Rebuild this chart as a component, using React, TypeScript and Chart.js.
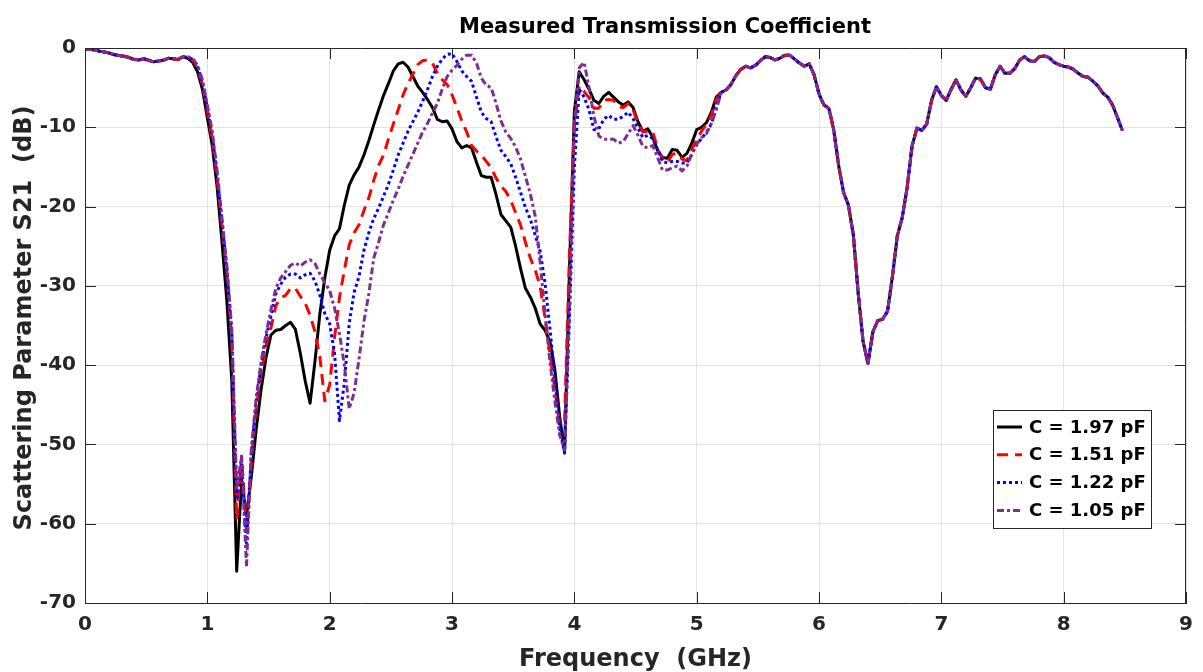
import { useEffect, useRef } from "react";
import { Chart, registerables } from "chart.js";

Chart.register(...registerables);

const FONT = "'DejaVu Sans', 'Liberation Sans', sans-serif";

// Frequency grid (GHz), 0.04 GHz step, 0 .. 8.48
const freqGHz: number[] = Array.from({ length: 213 }, (_, i) => Math.round(i * 4) / 100);

const xTicks = [0, 1, 2, 3, 4, 5, 6, 7, 8, 9];
const yTicks = [-70, -60, -50, -40, -30, -20, -10, 0];

const seriesLabels = ["C = 1.97 pF", "C = 1.51 pF", "C = 1.22 pF", "C = 1.05 pF"];

// 0.00 .. 0.80 GHz (shared by all curves)
const commonLow = [
  -0.1, -0.15, -0.25, -0.4, -0.5, -0.65, -0.85, -0.95, -1.05, -1.2,
  -1.45, -1.5, -1.35, -1.55, -1.75, -1.65, -1.55, -1.3, -1.35, -1.45,
  -1.1,
];

// 0.84 .. 5.16 GHz
const midC197 = [
  -1.3, -1.8, -3.0, -5.2, -8.8, -12.3, -17.5, -24.5, -32, -42,
  -66, -54.5, -59, -54, -48, -43, -39, -36.2, -35.6, -35.5,
  -35, -34.6, -35.5, -38.5, -42, -44.8, -39.5, -33.5, -29, -25.5,
  -23.7, -22.8, -19.8, -17.3, -16, -15, -13.5, -11.7, -9.7, -7.8,
  -6.0, -4.5, -2.9, -2.0, -1.8, -2.4, -3.6, -4.8, -5.6, -6.5,
  -7.5, -9.0, -9.3, -9.2, -10.2, -11.8, -12.6, -12.3, -12.6, -14.4,
  -16.1, -16.3, -16.3, -18.5, -21, -21.8, -22.6, -25, -27.8, -30.3,
  -31.4, -32.8, -34.8, -35.6, -37, -40.5, -46.5, -51, -28, -8,
  -3.0, -4.0, -5.2, -6.6, -7.0, -6.1, -5.6, -6.2, -6.8, -7.2,
  -6.8, -7.5, -9.3, -10.5, -10.2, -11.2, -12.9, -13.8, -13.9, -12.8,
  -12.9, -13.8, -13.3, -12.0, -10.3, -10.0, -9.4, -8.1, -6.2,
];

const midC151 = [
  -1.2, -1.5, -2.6, -4.6, -8.0, -11.5, -16.5, -22.5, -28.5, -37,
  -59.5, -51.5, -61, -52, -45.5, -41, -37.5, -35.3, -32.5, -31.5,
  -31.2, -30.3, -30.3, -31.3, -32.2, -33.7, -35.8, -39, -44.5, -42.5,
  -36.5, -31.5, -28, -24.8, -23.3, -22.3, -20.5, -18.9, -16.7, -14.8,
  -13.5, -11.5, -9.6, -7.8, -5.9, -4.5, -3.3, -2.1, -1.6, -1.5,
  -1.9, -3.2, -4.0, -4.6, -5.9, -7.5, -9.2, -10.6, -12.3, -13.0,
  -13.5, -14.3, -15.1, -16.4, -17.4, -18.1, -19.2, -20.8, -22.3, -24.5,
  -26.5, -28, -30, -34, -38.5, -43, -47.5, -47, -26, -10,
  -4.8, -5.5, -6.3, -7.6, -7.6, -6.6, -6.5, -6.6, -7.4, -7.5,
  -7.0, -7.8, -9.5, -10.6, -10.5, -10.5, -12.7, -14.0, -14.5, -13.4,
  -13.3, -14.0, -14.2, -12.8, -11.5, -10.5, -9.6, -8.5, -6.5,
];

const midC122 = [
  -1.2, -1.4, -2.4, -4.3, -7.6, -11, -16, -22, -28, -36,
  -57, -52, -62.5, -51, -44.5, -40, -36.5, -33.8, -31, -29.8,
  -28.9, -28.5, -28.5, -29, -28.6, -28.4, -29.4, -31.2, -33.5, -34.8,
  -38.5, -47, -42.2, -34.7, -30.8, -28.8, -25.5, -23.3, -21.5, -20.2,
  -18.7, -17.2, -15.4, -13.5, -12.0, -10.5, -9.3, -8.1, -6.7, -5.2,
  -3.6, -2.3, -1.4, -0.8, -0.7, -1.7, -2.9, -3.6, -4.2, -6.2,
  -8.1, -8.9, -9.3, -11.2, -12.9, -13.7, -14.6, -16.3, -18.2, -20.1,
  -21.6, -23.6, -25.6, -29.6, -35.3, -41.5, -48, -51.1, -34, -15,
  -5.2, -6.2, -7.8, -10.3, -10.2, -9.0, -8.5, -9.0, -9.0, -8.6,
  -8.1, -8.9, -10.1, -11.3, -11.0, -11.4, -12.8, -14.3, -14.5, -14.3,
  -14.3, -14.5, -14.5, -13.4, -12.2, -11.4, -10.6, -9.6, -7.4,
];

const midC105 = [
  -1.1, -1.3, -2.2, -4.0, -7.2, -10.5, -15.5, -21.5, -27.5, -35.5,
  -55.5, -51.5, -65.4, -50.5, -44, -39.5, -36, -33, -30.3, -29,
  -28.2, -27.4, -27.1, -27.5, -27, -26.7, -27.2, -28.5, -29.6, -30.6,
  -32.8, -36, -40, -45.5, -43.5, -39.2, -34.5, -31, -26.5, -24.5,
  -22.3, -20.8, -19.2, -17.8, -16.2, -14.8, -13.4, -12.0, -10.6, -9.5,
  -8.2, -7.0, -5.2, -3.6, -2.8, -2.2, -1.4, -0.9, -0.9, -1.9,
  -3.8, -4.7, -5.0, -7.0, -9.2, -10.6, -11.4, -12.5, -14.0, -16.2,
  -18.4, -21.2, -27, -33.5, -39.5, -44.5, -48.8, -50.7, -32.6, -9.5,
  -2.5, -1.8, -5.0, -8.6, -11.1, -11.5, -11.5, -11.5, -12.0, -11.8,
  -10.8, -9.8, -11.0, -12.4, -12.6, -12.3, -13.8, -15.4, -15.4, -15.1,
  -14.9, -15.5, -14.9, -13.4, -12.1, -11.3, -10.8, -9.5, -7.8,
];

// 5.20 .. 8.48 GHz (shared by all curves)
const commonHigh = [
  -5.6, -5.3, -4.6, -3.5, -2.7, -2.3, -2.5, -2.2, -1.6, -1.1,
  -1.2, -1.5, -1.3, -0.9, -0.9, -1.4, -1.9, -2.3, -2.0, -3.4,
  -5.8, -7.2, -7.6, -10.3, -14.8, -18.2, -19.8, -23.5, -30.9, -37,
  -39.8, -35.8, -34.4, -34.2, -33.2, -28.8, -23.7, -21.4, -17.6, -12.4,
  -10.1, -10.4, -9.6, -6.6, -4.9, -6.0, -6.6, -5.2, -4.0, -5.3,
  -6.1, -5.0, -3.8, -3.9, -5.0, -5.2, -3.4, -2.3, -3.2, -3.2,
  -2.6, -1.5, -1.1, -1.6, -1.7, -1.1, -1.0, -1.2, -1.8, -2.1,
  -2.3, -2.4, -2.7, -3.2, -3.6, -3.7, -4.2, -4.8, -5.7, -6.2,
  -7.2, -8.8, -10.4,
];

const s21C197 = [...commonLow, ...midC197, ...commonHigh];
const s21C151 = [...commonLow, ...midC151, ...commonHigh];
const s21C122 = [...commonLow, ...midC122, ...commonHigh];
const s21C105 = [...commonLow, ...midC105, ...commonHigh];

const toPoints = (vals: number[]) => freqGHz.map((f, i) => ({ x: f, y: vals[i] }));

const decorPlugin = {
  id: "matlabDecor",
  afterDraw(chart: any) {
    const { ctx, chartArea, scales } = chart;
    const { left, right, top, bottom } = chartArea;
    ctx.save();
    // box top & right
    ctx.strokeStyle = "#262626";
    ctx.lineWidth = 1;
    ctx.setLineDash([]);
    ctx.beginPath();
    ctx.moveTo(left, top + 0.5);
    ctx.lineTo(right, top + 0.5);
    ctx.moveTo(right - 0.5, top);
    ctx.lineTo(right - 0.5, bottom);
    ctx.stroke();
    // inward ticks
    const tl = 11;
    ctx.beginPath();
    xTicks.forEach((v) => {
      const px = Math.round(scales.x.getPixelForValue(v)) + 0.5;
      ctx.moveTo(px, bottom);
      ctx.lineTo(px, bottom - tl);
      ctx.moveTo(px, top);
      ctx.lineTo(px, top + tl);
    });
    yTicks.forEach((v) => {
      const py = Math.round(scales.y.getPixelForValue(v)) + 0.5;
      ctx.moveTo(left, py);
      ctx.lineTo(left + tl, py);
      ctx.moveTo(right, py);
      ctx.lineTo(right - tl, py);
    });
    ctx.stroke();

    // title
    const cx = (left + right) / 2;
    ctx.fillStyle = "#000000";
    ctx.textAlign = "center";
    ctx.textBaseline = "middle";
    ctx.font = `bold 21px ${FONT}`;
    ctx.fillText("Measured Transmission Coefficient", 665, 28);

    // x title
    ctx.fillStyle = "#262626";
    ctx.font = `bold 24px ${FONT}`;
    ctx.fillText("Frequency  (GHz)", cx, 660);

    // y title
    ctx.save();
    ctx.translate(25, 318);
    ctx.rotate(-Math.PI / 2);
    ctx.font = `bold 24px ${FONT}`;
    ctx.fillText("Scattering Parameter S21  (dB)", 0, 0);
    ctx.restore();

    // legend
    const bx = 993, by = 410, bw = 158, bh = 118;
    ctx.fillStyle = "#ffffff";
    ctx.fillRect(bx, by, bw, bh);
    ctx.strokeStyle = "#262626";
    ctx.lineWidth = 1;
    ctx.strokeRect(bx + 0.5, by + 0.5, bw, bh);
    chart.data.datasets.forEach((ds: any, i: number) => {
      const y = by + 17 + i * 27.8;
      ctx.beginPath();
      ctx.strokeStyle = ds.borderColor;
      ctx.lineWidth = ds.borderWidth;
      ctx.setLineDash(ds.borderDash || []);
      ctx.moveTo(bx + 4, y);
      ctx.lineTo(bx + 29, y);
      ctx.stroke();
      ctx.setLineDash([]);
      ctx.fillStyle = "#000000";
      ctx.textAlign = "left";
      ctx.textBaseline = "middle";
      ctx.font = `bold 18px ${FONT}`;
      ctx.fillText(ds.label, bx + 36, y + 1);
    });
    ctx.restore();
  },
};

export default function App() {
  const canvasRef = useRef<HTMLCanvasElement | null>(null);

  useEffect(() => {
    document.body.style.margin = "0";
    const canvas = canvasRef.current;
    if (!canvas) return;
    const tickFont = { family: FONT, size: 20, weight: "bold" as const };
    const chart = new Chart(canvas, {
      type: "line",
      data: {
        datasets: [
          {
            label: seriesLabels[0],
            data: toPoints(s21C197),
            borderColor: "#000000",
            borderWidth: 3,
            borderDash: [],
            order: 4,
          },
          {
            label: seriesLabels[1],
            data: toPoints(s21C151),
            borderColor: "#ff0000",
            borderWidth: 3,
            borderDash: [11, 7],
            order: 3,
          },
          {
            label: seriesLabels[2],
            data: toPoints(s21C122),
            borderColor: "#0000ff",
            borderWidth: 3,
            borderDash: [3, 3],
            order: 2,
          },
          {
            label: seriesLabels[3],
            data: toPoints(s21C105),
            borderColor: "#7e2f8e",
            borderWidth: 3,
            borderDash: [7, 3, 3, 3],
            order: 1,
          },
        ] as any,
      },
      options: {
        animation: false,
        responsive: false,
        devicePixelRatio: 1,
        layout: { padding: { left: 0, right: 11, top: 48, bottom: 0 } },
        elements: {
          point: { radius: 0 },
          line: { tension: 0, borderJoinStyle: "round", fill: false },
        },
        plugins: {
          legend: { display: false },
          title: { display: false },
          tooltip: { enabled: false },
        },
        scales: {
          x: {
            type: "linear",
            min: 0,
            max: 9,
            afterFit: (s: any) => {
              s.height = 69;
            },
            afterBuildTicks: (s: any) => {
              s.ticks = xTicks.map((v) => ({ value: v }));
            },
            ticks: { font: tickFont, color: "#262626", padding: 10, maxRotation: 0, autoSkip: false },
            grid: { color: "#e3e3e3", lineWidth: 1, drawTicks: false },
            border: { color: "#262626", width: 1 },
          },
          y: {
            type: "linear",
            min: -70,
            max: 0,
            afterFit: (s: any) => {
              s.width = 85;
            },
            afterBuildTicks: (s: any) => {
              s.ticks = yTicks.map((v) => ({ value: v }));
            },
            ticks: { font: tickFont, color: "#262626", padding: 9 },
            grid: { color: "#e3e3e3", lineWidth: 1, drawTicks: false },
            border: { color: "#262626", width: 1 },
          },
        },
      } as any,
      plugins: [decorPlugin],
    });
    return () => chart.destroy();
  }, []);

  return (
    <div style={{ position: "absolute", left: 0, top: 0, width: 1203, height: 672, background: "#fff" }}>
      <canvas ref={canvasRef} width={1203} height={672} style={{ width: 1203, height: 672, display: "block" }} />
    </div>
  );
}
